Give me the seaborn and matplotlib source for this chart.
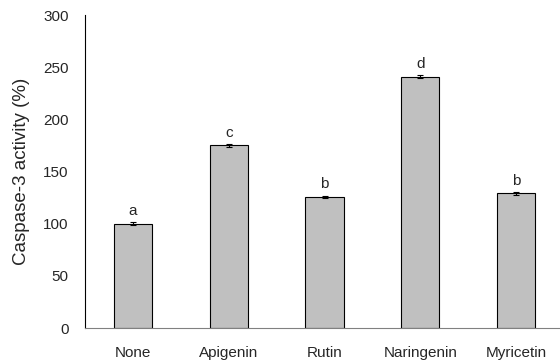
import matplotlib
matplotlib.use("Agg")
import matplotlib.pyplot as plt
import numpy as np
import pandas as pd
import seaborn as sns

# data
treatments = ["None", "Apigenin", "Rutin", "Naringenin", "Myricetin"]
activity = [100, 175, 126, 241, 129]
sem = [1.5, 1, 1, 1.5, 1]
letters = ["a", "c", "b", "d", "b"]

sns.set_style("white")
plt.rcParams['font.family'] = ['Liberation Sans', 'DejaVu Sans']

df = pd.DataFrame({"treatment": treatments, "activity": activity})

fig = plt.figure(figsize=(5.6, 3.63), dpi=100)
ax = fig.add_axes([0.152, 0.0964, 0.855, 0.862])

sns.barplot(data=df, x="treatment", y="activity", color="#C0C0C0",
            edgecolor="black", linewidth=0.8, width=0.4, saturation=1,
            errorbar=None, ax=ax)

x = np.arange(len(treatments))
ax.errorbar(x, activity, yerr=sem, fmt="none", ecolor="black",
            elinewidth=0.8, capsize=2.5, capthick=0.8)

# significance letters above each bar
for xi, v, e, lab in zip(x, activity, sem, letters):
    ax.text(xi, v + e + 4, lab, ha="center", va="bottom", fontsize=11)

ax.set_xlim(-0.5, 4.5)
ax.set_ylim(0, 300)
ax.set_yticks(range(0, 301, 50))
ax.set_xlabel("")
ax.set_ylabel("Caspase-3 activity (%)", fontsize=13.5, labelpad=9)
ax.tick_params(axis="both", labelsize=11, length=0)
ax.tick_params(axis="y", pad=12)
ax.tick_params(axis="x", pad=13)

sns.despine(ax=ax)
ax.spines["left"].set_color("black")
ax.spines["left"].set_linewidth(0.8)
ax.spines["bottom"].set_color("#808080")
ax.spines["bottom"].set_linewidth(0.8)

fig.savefig("out.png", dpi=100)
